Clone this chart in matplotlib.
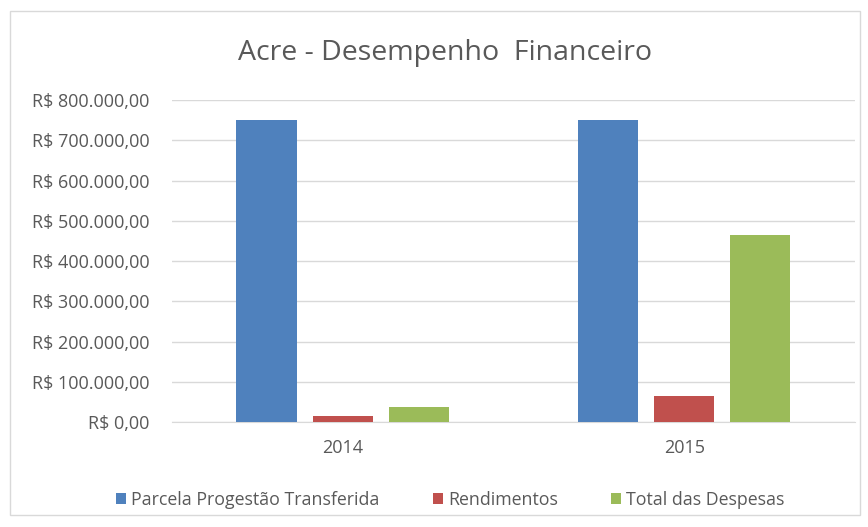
import numpy as np
import matplotlib
matplotlib.use("Agg")
import matplotlib.pyplot as plt
from matplotlib.ticker import FuncFormatter
from matplotlib.patches import Rectangle

# data
years = ["2014", "2015"]
series = ["Parcela Progestão Transferida", "Rendimentos", "Total das Despesas"]
parcela = [750000, 750000]
rendimentos = [15000, 65000]
despesas = [38000, 464000]
colors = ["#4f81bd", "#c0504d", "#9bbb59"]

plt.rcParams["font.family"] = ["Open Sans", "DejaVu Sans"]
text_gray = "#595959"

fig = plt.figure(figsize=(8.68, 5.27), dpi=100)
ax = fig.add_axes([0.198, 0.199, 0.787, 0.611])

# chart border
fig.patches.append(Rectangle((0.012, 0.022), 0.979, 0.958, transform=fig.transFigure,
                             fill=False, edgecolor="#d9d9d9", linewidth=1))

x = np.arange(len(years))
w = 0.176
step = 0.223
for i, (vals, c) in enumerate(zip([parcela, rendimentos, despesas], colors)):
    ax.bar(x + (i - 1) * step, vals, width=w, color=c, label=series[i], zorder=3)

ax.set_xlim(-0.5, 1.5)
ax.set_ylim(0, 800000)
ax.set_yticks(np.arange(0, 800001, 100000))


def brl(v, pos):
    s = f"{v:,.2f}".replace(",", "X").replace(".", ",").replace("X", ".")
    return "R$ " + s


ax.yaxis.set_major_formatter(FuncFormatter(brl))
ax.set_xticks(x)
ax.set_xticklabels(years)
ax.tick_params(axis="both", length=0, labelsize=13, colors=text_gray)
ax.tick_params(axis="y", pad=16)
ax.tick_params(axis="x", pad=12)
ax.grid(axis="y", color="#d9d9d9", linewidth=1, zorder=0)
for s in ["top", "right", "left"]:
    ax.spines[s].set_visible(False)
ax.spines["bottom"].set_color("#d9d9d9")

fig.text(0.513, 0.899, "Acre - Desempenho  Financeiro", ha="center", va="center",
         fontsize=20.5, color=text_gray)

fig.legend(loc="center", bbox_to_anchor=(0.519, 0.051), ncol=3, frameon=False,
           fontsize=12.8, labelcolor=text_gray, handlelength=0.55, handleheight=0.55,
           handletextpad=0.3, columnspacing=3.0)

fig.savefig("out.png", dpi=100)
